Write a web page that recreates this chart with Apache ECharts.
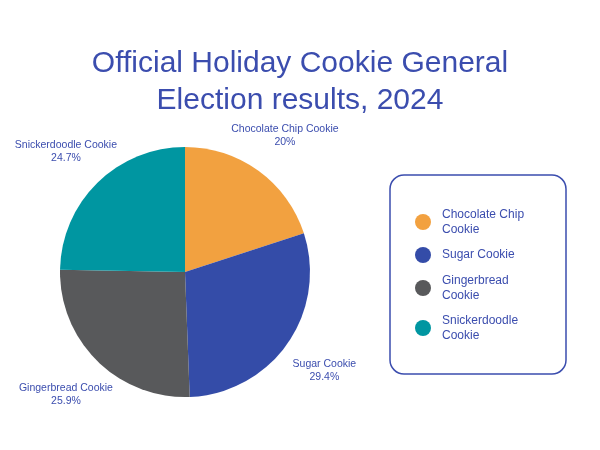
<!DOCTYPE html>
<html>
<head>
<meta charset="utf-8">
<script src="https://cdn.jsdelivr.net/npm/echarts@6/dist/echarts.min.js"></script>
<style>
  html, body { margin: 0; padding: 0; background: #fff; }
  #chart { width: 600px; height: 450px; }
</style>
</head>
<body>
<div id="chart"></div>
<script>
var cookies = ["Chocolate Chip Cookie", "Sugar Cookie", "Gingerbread Cookie", "Snickerdoodle Cookie"];
var shares = [20, 29.4, 25.9, 24.7];
var sliceColors = ["#F2A140", "#344CA8", "#58595B", "#0096A1"];

var textBlue = "#3B4DAE";
var font = "Liberation Sans";

var pieData = cookies.map(function(name, i){
    return { name: name, value: shares[i], itemStyle: { color: sliceColors[i] } };
});
// invisible twin pie, only used to put the labels centred outside the slices
var labelData = cookies.map(function(name, i){
    return { name: name, value: shares[i] };
});

var myChart = echarts.init(document.getElementById("chart"));
myChart.setOption({
    backgroundColor: "#fff",
    title: {
        text: "Official Holiday Cookie General\nElection results, 2024",
        left: "center",
        top: 40,
        textStyle: { color: textBlue, fontFamily: font, fontSize: 30, fontWeight: "normal", lineHeight: 37 }
    },
    legend: {
        orient: "vertical",
        left: 390,
        top: 175,
        padding: [32, 29, 31, 25],
        borderColor: textBlue,
        borderWidth: 1.5,
        borderRadius: 14,
        itemGap: 10,
        itemWidth: 16,
        itemHeight: 16,
        icon: "circle",
        data: cookies.map(function(name, i){
            return { name: name, itemStyle: { color: sliceColors[i] } };
        }),
        textStyle: {
            color: textBlue, fontFamily: font, fontSize: 12, lineHeight: 15,
            width: 95, overflow: "break", padding: [0, 0, 0, 6]
        }
    },
    series: [
        {
            type: "pie",
            center: [185, 272],
            radius: 125,
            startAngle: 90,
            clockwise: true,
            label: { show: false },
            labelLine: { show: false },
            emphasis: { disabled: true },
            data: pieData
        },
        {
            type: "pie",
            center: [185, 273],
            radius: 334,
            startAngle: 90,
            clockwise: true,
            silent: true,
            z: 1,
            itemStyle: { color: "transparent" },
            label: {
                show: true,
                position: "inside",
                rotate: 0,
                formatter: "{b}\n{d}%",
                color: textBlue,
                fontFamily: font,
                fontSize: 10.5,
                lineHeight: 13
            },
            labelLine: { show: false },
            emphasis: { disabled: true },
            data: labelData
        }
    ]
});
</script>
</body>
</html>
